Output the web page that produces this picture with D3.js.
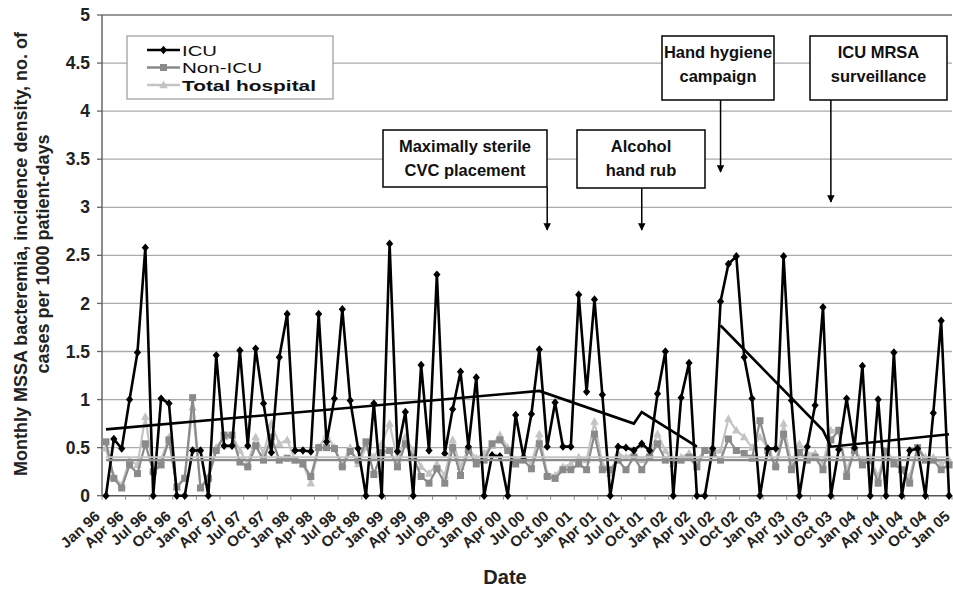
<!DOCTYPE html>
<html>
<head>
<meta charset="utf-8">
<script src="https://cdn.jsdelivr.net/npm/d3@7"></script>
<style>
  body { margin: 0; background: #fff; }
  svg { display: block; font-family: "Liberation Sans", Arial, sans-serif; }
</style>
</head>
<body>
<div id="chart"></div>
<script>
// monthly values, Jan 96 .. Dec 04 (one per month)
const icu = [
  0, 0.59, 0.49, 1.0, 1.49, 2.58, 0, 1.01, 0.96, 0, 0, 0.47,
  0.47, 0, 1.46, 0.52, 0.52, 1.51, 0.52, 1.53, 0.96, 0.45, 1.44, 1.89,
  0.47, 0.47, 0.46, 1.89, 0.56, 1.01, 1.94, 0.99, 0.49, 0, 0.96, 0,
  2.62, 0.46, 0.87, 0, 1.36, 0.47, 2.3, 0.44, 0.9, 1.29, 0.51, 1.23,
  0, 0.42, 0.41, 0, 0.84, 0.4, 0.85, 1.52, 0.51, 0.97, 0.51, 0.51,
  2.09, 1.08, 2.04, 1.05, 0, 0.51, 0.5, 0.47, 0.54, 0.47, 1.06, 1.5,
  0, 1.02, 1.38, 0, 0, 0.49, 2.02, 2.41, 2.49, 1.44, 1.01, 0,
  0.49, 0.49, 2.49, 0.99, 0, 0.51, 0.94, 1.96, 0, 0.48, 1.01, 0.5,
  1.35, 0, 1.0, 0, 1.49, 0, 0.47, 0.49, 0, 0.86, 1.82, 0
];
const nonIcu = [
  0.56, 0.18, 0.08, 0.32, 0.23, 0.54, 0.25, 0.32, 0.58, 0.09, 0.18, 1.02,
  0.08, 0.18, 0.47, 0.63, 0.63, 0.35, 0.3, 0.52, 0.37, 0.61, 0.37, 0.39,
  0.37, 0.33, 0.2, 0.5, 0.5, 0.49, 0.3, 0.46, 0.37, 0.56, 0.22, 0.45,
  0.47, 0.3, 0.54, 0.4, 0.2, 0.13, 0.28, 0.13, 0.5, 0.21, 0.47, 0.33,
  0.37, 0.54, 0.58, 0.47, 0.33, 0.37, 0.28, 0.54, 0.2, 0.18, 0.27, 0.27,
  0.33, 0.27, 0.64, 0.27, 0.27, 0.37, 0.27, 0.4, 0.27, 0.4, 0.54, 0.37,
  0.37, 0.37, 0.4, 0.3, 0.47, 0.44, 0.37, 0.59, 0.47, 0.44, 0.39, 0.78,
  0.47, 0.3, 0.64, 0.27, 0.45, 0.37, 0.4, 0.27, 0.58, 0.68, 0.2, 0.47,
  0.32, 0.37, 0.13, 0.46, 0.33, 0.27, 0.13, 0.5, 0.37, 0.37, 0.27, 0.32
];
const totalHosp = [
  0.49, 0.2, 0.11, 0.37, 0.32, 0.82, 0.27, 0.37, 0.61, 0.09, 0.2, 0.92,
  0.09, 0.2, 0.5, 0.61, 0.63, 0.47, 0.33, 0.61, 0.44, 0.75, 0.54, 0.58,
  0.37, 0.33, 0.13, 0.5, 0.63, 0.5, 0.33, 0.5, 0.33, 0.5, 0.4, 0.54,
  0.75, 0.37, 0.61, 0.47, 0.3, 0.23, 0.33, 0.21, 0.58, 0.3, 0.49, 0.39,
  0.44, 0.52, 0.63, 0.5, 0.37, 0.4, 0.33, 0.64, 0.23, 0.21, 0.3, 0.33,
  0.4, 0.37, 0.77, 0.33, 0.23, 0.44, 0.4, 0.44, 0.37, 0.44, 0.64, 0.47,
  0.33, 0.4, 0.44, 0.37, 0.47, 0.47, 0.47, 0.8, 0.68, 0.61, 0.5, 0.61,
  0.5, 0.33, 0.75, 0.33, 0.54, 0.44, 0.44, 0.33, 0.68, 0.68, 0.27, 0.47,
  0.37, 0.4, 0.2, 0.47, 0.37, 0.27, 0.2, 0.5, 0.4, 0.4, 0.33, 0.37
];

// segmented regression lines: [month index, value]
const icuTrend = [
  [[0, 0.69], [55, 1.09], [67, 0.75], [68, 0.87], [75, 0.51]],
  [[78, 1.77], [91, 0.68], [92, 0.51], [107, 0.64]]
];
const nonIcuTrend = [[0, 0.37], [107, 0.37]];
const totalTrend = [[0, 0.40], [107, 0.40]];

const tickLabels = [
  "Jan 96", "Apr 96", "Jul 96", "Oct 96", "Jan 97", "Apr 97", "Jul 97", "Oct 97",
  "Jan 98", "Apr 98", "Jul 98", "Oct 98", "Jan 99", "Apr 99", "Jul 99", "Oct 99",
  "Jan 00", "Apr 00", "Jul 00", "Oct 00", "Jan 01", "Apr 01", "Jul 01", "Oct 01",
  "Jan 02", "Apr 02", "Jul 02", "Oct 02", "Jan 03", "Apr 03", "Jul 03", "Oct 03",
  "Jan 04", "Apr 04", "Jul 04", "Oct 04", "Jan 05"
];

const interventionText = [
  ["Maximally sterile", "CVC placement"],
  ["Alcohol", "hand rub"],
  ["Hand hygiene", "campaign"],
  ["ICU MRSA", "surveillance"]
];
const interventionMonth = [56, 68, 78, 92];

// box layout for the callouts (pixels)
const calloutBoxes = [
  { x0: 383, x1: 547, y0: 130, y1: 187, tip: 230 },
  { x0: 577, x1: 705, y0: 130, y1: 188, tip: 230 },
  { x0: 662, x1: 774, y0: 36, y1: 100, tip: 172 },
  { x0: 810, x1: 947, y0: 36, y1: 100, tip: 202 }
];

const W = 953, H = 591;
const plotL = 102, plotR = 952, plotT = 15, plotB = 495.7;

const svg = d3.select("#chart").append("svg")
  .attr("width", W).attr("height", H);

const x = d3.scalePoint()
  .domain(d3.range(icu.length))
  .range([plotL, plotR + 1])
  .padding(0.5);
const xq = d3.scaleLinear().domain([0, tickLabels.length - 1]).range([plotL, plotR]);
const y = d3.scaleLinear().domain([0, 5]).range([plotB, plotT]);

// gridlines
const yTicks = y.ticks(10);
svg.append("g").selectAll("line")
  .data(yTicks.filter(d => d > 0))
  .join("line")
  .attr("x1", plotL).attr("x2", plotR)
  .attr("y1", d => y(d)).attr("y2", d => y(d))
  .attr("stroke", d => d === 5 ? "#777" : "#aaa")
  .attr("stroke-width", 1.3);

// y axis
const yAxis = svg.append("g");
yAxis.append("line")
  .attr("x1", plotL).attr("x2", plotL).attr("y1", plotT).attr("y2", plotB)
  .attr("stroke", "#666").attr("stroke-width", 1.5);
yAxis.selectAll(".tk").data(yTicks).join("line")
  .attr("x1", plotL - 5).attr("x2", plotL)
  .attr("y1", d => y(d)).attr("y2", d => y(d))
  .attr("stroke", "#666").attr("stroke-width", 1.3);
yAxis.selectAll("text").data(yTicks).join("text")
  .attr("x", 90).attr("y", d => y(d)).attr("dy", "0.35em")
  .attr("text-anchor", "end")
  .attr("font-size", 17.5).attr("font-weight", "bold").attr("fill", "#222")
  .text(d => String(d));

// x axis
const xAxis = svg.append("g");
xAxis.append("line")
  .attr("x1", plotL).attr("x2", plotR).attr("y1", plotB).attr("y2", plotB)
  .attr("stroke", "#555").attr("stroke-width", 1.5);
xAxis.selectAll(".tk").data(tickLabels).join("line")
  .attr("x1", (d, i) => xq(i)).attr("x2", (d, i) => xq(i))
  .attr("y1", plotB).attr("y2", plotB + 4)
  .attr("stroke", "#888");
xAxis.selectAll("text").data(tickLabels).join("text")
  .attr("transform", (d, i) => `translate(${xq(i) - 1},${plotB + 22}) rotate(-42)`)
  .attr("text-anchor", "end")
  .attr("font-size", 15).attr("font-weight", "bold").attr("fill", "#222")
  .text(d => d);

svg.append("text")
  .attr("x", 505).attr("y", 584).attr("text-anchor", "middle")
  .attr("font-size", 20).attr("font-weight", "bold").attr("fill", "#222")
  .text("Date");

const yTitle = ["Monthly MSSA bacteremia, incidence density, no. of", "cases per 1000 patient-days"];
svg.selectAll(".ytitle").data(yTitle).join("text")
  .attr("transform", (d, i) => `translate(${27 + i * 22},254) rotate(-90)`)
  .attr("text-anchor", "middle")
  .attr("font-size", 18).attr("font-weight", "bold").attr("fill", "#222")
  .text(d => d);

// series
const line = d3.line().x((d, i) => x(i)).y(d => y(d));
const trendLine = d3.line().x(d => x(d[0])).y(d => y(d[1]));

const diamond = "M0,-4.2L3.6,0L0,4.2L-3.6,0Z";
const square = "M-3.5,-3.5H3.5V3.5H-3.5Z";
const triangle = "M0,-4.6L4.3,3.2H-4.3Z";

const series = [
  { values: totalHosp, color: "#c4c4c4", shape: triangle, width: 2.2 },
  { values: nonIcu, color: "#8a8a8a", shape: square, width: 2.2 },
  { values: icu, color: "#000", shape: diamond, width: 2.6 }
];

series.forEach(s => {
  svg.append("path")
    .attr("d", line(s.values))
    .attr("fill", "none").attr("stroke", s.color)
    .attr("stroke-width", s.width).attr("stroke-linejoin", "round");
  svg.append("g").selectAll("path")
    .data(s.values)
    .join("path")
    .attr("transform", (d, i) => `translate(${x(i)},${y(d)})`)
    .attr("d", s.shape)
    .attr("fill", s.color);
});

// trend lines
svg.append("path").attr("d", trendLine(totalTrend))
  .attr("fill", "none").attr("stroke", "#c4c4c4").attr("stroke-width", 2.2);
svg.append("path").attr("d", trendLine(nonIcuTrend))
  .attr("fill", "none").attr("stroke", "#8a8a8a").attr("stroke-width", 2.2);
icuTrend.forEach(seg => {
  svg.append("path").attr("d", trendLine(seg))
    .attr("fill", "none").attr("stroke", "#000").attr("stroke-width", 2.6);
});

// legend
const legend = svg.append("g");
legend.append("rect")
  .attr("x", 127).attr("y", 36).attr("width", 206).attr("height", 63)
  .attr("fill", "#fff").attr("stroke", "#999").attr("stroke-width", 1.2);
const legendItems = [
  { name: "ICU", color: "#000", shape: diamond, bold: false, len: 35 },
  { name: "Non-ICU", color: "#8a8a8a", shape: square, bold: false, len: 80 },
  { name: "Total hospital", color: "#c4c4c4", shape: triangle, bold: true, len: 134 }
];
legendItems.forEach((d, i) => {
  const ly = 50 + i * 17.5;
  legend.append("line")
    .attr("x1", 147).attr("x2", 180).attr("y1", ly).attr("y2", ly)
    .attr("stroke", d.color).attr("stroke-width", 2.4);
  legend.append("path")
    .attr("transform", `translate(163.5,${ly})`)
    .attr("d", d.shape).attr("fill", d.color);
  legend.append("text")
    .attr("x", 182).attr("y", ly).attr("dy", "0.36em")
    .attr("font-size", 15.5).attr("font-weight", d.bold ? "bold" : "normal")
    .attr("textLength", d.len).attr("lengthAdjust", "spacingAndGlyphs")
    .attr("fill", "#111")
    .text(d.name);
});

// callouts
svg.append("defs").append("marker")
  .attr("id", "arrow").attr("viewBox", "0 0 10 10")
  .attr("refX", 9).attr("refY", 5)
  .attr("markerWidth", 5).attr("markerHeight", 5)
  .attr("orient", "auto")
  .append("path").attr("d", "M0,0L10,5L0,10Z").attr("fill", "#000");

interventionText.forEach((lines, i) => {
  const b = calloutBoxes[i];
  const ax = x(interventionMonth[i]);
  svg.append("line")
    .attr("x1", ax).attr("x2", ax).attr("y1", b.y1).attr("y2", b.tip)
    .attr("stroke", "#000").attr("stroke-width", 1.5)
    .attr("marker-end", "url(#arrow)");
  svg.append("rect")
    .attr("x", b.x0).attr("y", b.y0)
    .attr("width", b.x1 - b.x0).attr("height", b.y1 - b.y0)
    .attr("fill", "#fff").attr("stroke", "#111").attr("stroke-width", 1.6);
  svg.append("g").selectAll("text").data(lines).join("text")
    .attr("x", (b.x0 + b.x1) / 2)
    .attr("y", (d, j) => b.y0 + 16 + j * 24)
    .attr("dy", "0.35em").attr("text-anchor", "middle")
    .attr("font-size", 16.5).attr("font-weight", "bold").attr("fill", "#111")
    .text(d => d);
});
</script>
</body>
</html>
